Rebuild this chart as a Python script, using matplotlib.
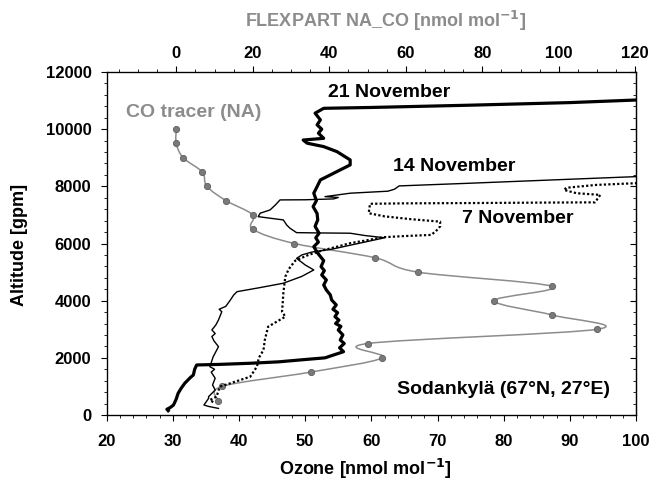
import numpy as np
import matplotlib
matplotlib.use("Agg")
import matplotlib.pyplot as plt
from matplotlib.path import Path
from matplotlib.patches import PathPatch
from matplotlib.ticker import MultipleLocator

plt.rcParams['font.family'] = ['Liberation Sans', 'DejaVu Sans']
plt.rcParams['font.weight'] = 'bold'
plt.rcParams['axes.labelweight'] = 'bold'
plt.rcParams['mathtext.default'] = 'bf'

# Ozone soundings (ozone [nmol/mol], altitude [gpm])
nov21_o3 = [29.3, 29.1, 29.6, 30.1, 30.5, 30.8, 31.3, 31.8, 32.6, 33.1, 33.3, 33.6,
            37.0, 41.7, 46.0, 49.2, 53.0, 55.8, 55.2, 55.9, 55.3, 55.7, 55.0, 55.4,
            54.6, 55.1, 54.5, 54.9, 54.2, 54.7, 54.0, 53.8, 53.2, 52.8, 53.2, 52.5,
            52.9, 52.4, 52.8, 51.9, 51.3, 52.0, 51.6, 52.1, 51.5, 51.9, 51.8, 51.2,
            51.7, 51.3, 51.8, 52.3, 53.8, 55.3, 56.8, 56.8, 54.8, 52.8, 50.3, 49.7,
            52.8, 52.0, 52.5, 51.8, 52.3, 51.5, 52.8, 60.0, 75.0, 90.0, 100.0]
nov21_alt = [150, 200, 260, 350, 550, 760, 950, 1110, 1300, 1400, 1600, 1750,
             1770, 1810, 1860, 1925, 2000, 2215, 2350, 2500, 2625, 2800, 2975, 3100,
             3200, 3320, 3440, 3580, 3700, 3850, 4025, 4200, 4375, 4550, 4725, 4900,
             5050, 5190, 5400, 5660, 5890, 6050, 6200, 6360, 6600, 6825, 7050, 7290,
             7500, 7760, 7990, 8225, 8400, 8575, 8750, 8925, 9215, 9390, 9510, 9620,
             9680, 9860, 10000, 10150, 10325, 10560, 10730, 10760, 10840, 10930, 11020]

nov14_o3 = [36.9, 35.4, 34.7, 35.4, 35.4, 36.4, 36.0, 36.4, 35.8, 36.3, 35.6, 36.1,
            36.9, 36.2, 35.9, 36.4, 35.9, 36.5, 36.9, 37.4, 37.0, 38.0, 38.7, 39.2,
            39.7, 43.0, 46.7, 49.5, 51.3, 50.0, 48.7, 49.5, 51.0, 54.0, 57.0, 60.0,
            62.0, 59.0, 56.8, 52.0, 48.7, 47.7, 47.2, 46.7, 44.7, 42.9, 43.2, 44.7,
            45.5, 46.2, 50.0, 54.3, 55.0, 53.0, 56.8, 62.5, 63.5, 64.2, 75.0, 88.0,
            100.0]
nov14_alt = [230, 300, 350, 580, 640, 875, 1050, 1285, 1500, 1600, 1690, 2040,
             2390, 2600, 2745, 2850, 2975, 3150, 3325, 3615, 3700, 3800, 4025, 4200,
             4315, 4450, 4610, 4850, 5075, 5250, 5480, 5600, 5700, 5800, 5950, 6100,
             6200, 6280, 6360, 6370, 6380, 6535, 6650, 6825, 6885, 6940, 7060, 7175,
             7350, 7525, 7530, 7560, 7610, 7640, 7760, 7830, 7900, 8015, 8110, 8230,
             8340]

nov7_o3 = [36.1, 35.6, 36.6, 37.1, 38.7, 41.7, 42.7, 43.0, 43.7, 43.9, 44.4, 47.0,
           46.5, 46.6, 46.7, 47.0, 47.5, 48.5, 50.5, 52.5, 55.0, 56.8, 59.0, 61.8,
           65.0, 69.0, 69.7, 70.4, 70.4, 66.0, 62.0, 59.6, 59.8, 65.0, 75.0, 85.0,
           93.8, 94.6, 91.0, 89.1, 89.5, 94.0, 100.0]
nov7_alt = [450, 525, 640, 990, 1110, 1340, 1690, 2000, 2275, 2625, 3090, 3440,
            3615, 3900, 4260, 4840, 5100, 5400, 5600, 5750, 5900, 6010, 6100, 6220,
            6260, 6300, 6415, 6600, 6765, 6850, 6950, 7060, 7390, 7405, 7415, 7430,
            7440, 7700, 7760, 7875, 7950, 8050, 8110]

# FLEXPART North American CO tracer (nmol/mol) at model levels
co_alt = [10000, 9500, 9000, 8500, 8000, 7500, 7000, 6500, 6000, 5500,
          5000, 4500, 4000, 3500, 3000, 2500, 2000, 1500, 1000, 500]
co_na = [0.0, 0.0, 1.8, 6.8, 8.0, 13.0, 20.0, 20.0, 30.9, 52.0,
         63.1, 98.2, 83.1, 98.2, 110.1, 50.0, 53.9, 35.1, 11.9, 11.0]


def smooth_path(xs, ys):
    """Catmull-Rom curve through the points, expressed as cubic Bezier segments."""
    p = np.column_stack([xs, ys]).astype(float)
    ext = np.vstack([p[0], p, p[-1]])
    verts = [p[0]]
    codes = [Path.MOVETO]
    for i in range(1, len(ext) - 2):
        p0, p1, p2, p3 = ext[i - 1], ext[i], ext[i + 1], ext[i + 2]
        verts += [p1 + (p2 - p0) / 6.0, p2 - (p3 - p1) / 6.0, p2]
        codes += [Path.CURVE4] * 3
    return Path(verts, codes)


fig = plt.figure(figsize=(6.54, 4.83), dpi=100)
ax = fig.add_axes([0.1631, 0.1408, 0.8094, 0.7101])
ax2 = ax.twiny()

# CO tracer on the top axis, kept underneath the ozone profiles
gray = '#8c8c8c'
ax2.add_patch(PathPatch(smooth_path(co_na, co_alt), fill=False,
                        edgecolor=gray, lw=1.1))
ax2.plot(co_na, co_alt, ls='none', marker='o', ms=4.5,
         mfc='#7a7a7a', mec='#5e5e5e', mew=0.6)
ax2.set_xlim(-18.2, 120.2)
ax2.xaxis.set_major_locator(MultipleLocator(20))
ax2.xaxis.set_minor_locator(MultipleLocator(5))
ax2.tick_params(axis='x', which='major', direction='out', length=4, width=0.8,
                labelsize=12, pad=4)
ax2.tick_params(axis='x', which='minor', direction='out', length=2.5, width=0.6)
fig.text(386 / 654, 1 - 21 / 483, r'FLEXPART NA_CO [nmol mol$^{\mathbf{-1}}$]',
         color=gray, fontsize=13, ha='center', va='center')

ax.set_zorder(ax2.get_zorder() + 1)
ax.patch.set_visible(False)

ax.plot(nov21_o3, nov21_alt, color='black', lw=2.3, solid_joinstyle='round')
ax.plot(nov14_o3, nov14_alt, color='black', lw=1.0)
ax.plot(nov7_o3, nov7_alt, color='black', lw=1.6, ls=(0, (1, 1)))

ax.set_xlim(20, 100)
ax.set_ylim(0, 12000)
ax.xaxis.set_major_locator(MultipleLocator(10))
ax.xaxis.set_minor_locator(MultipleLocator(2))
ax.yaxis.set_major_locator(MultipleLocator(2000))
ax.yaxis.set_minor_locator(MultipleLocator(400))
ax.tick_params(axis='both', which='major', direction='out', length=4, width=0.8,
               labelsize=12)
ax.tick_params(axis='both', which='minor', direction='out', length=2.5, width=0.6)
ax.tick_params(axis='x', which='both', top=False, pad=10)
ax.tick_params(axis='y', which='both', right=False, pad=7)

rax = ax.secondary_yaxis('right')
rax.yaxis.set_major_locator(MultipleLocator(2000))
rax.yaxis.set_minor_locator(MultipleLocator(400))
rax.tick_params(which='major', direction='in', length=4, width=0.8, labelright=False)
rax.tick_params(which='minor', direction='in', length=2.5, width=0.6)

for s in ax.spines.values():
    s.set_linewidth(0.9)

fig.text(365 / 654, 1 - 469 / 483, r'Ozone [nmol mol$^{\mathbf{-1}}$]',
         fontsize=13, ha='center', va='center')
fig.text(20 / 654, 1 - 245 / 483, 'Altitude [gpm]', fontsize=13,
         rotation=90, ha='center', va='center')

ax.text(62.7, 11284, '21 November', ha='center', va='center', fontsize=14)
ax.text(72.5, 8677, '14 November', ha='center', va='center', fontsize=14)
ax.text(82.2, 6858, '7 November', ha='center', va='center', fontsize=14)
ax.text(33.1, 10567, 'CO tracer (NA)', ha='center', va='center', fontsize=14,
        color=gray)
ax.text(80.0, 875, 'Sodankylä (67°N, 27°E)', ha='center', va='center', fontsize=14)

fig.savefig('out.png', dpi=100)
